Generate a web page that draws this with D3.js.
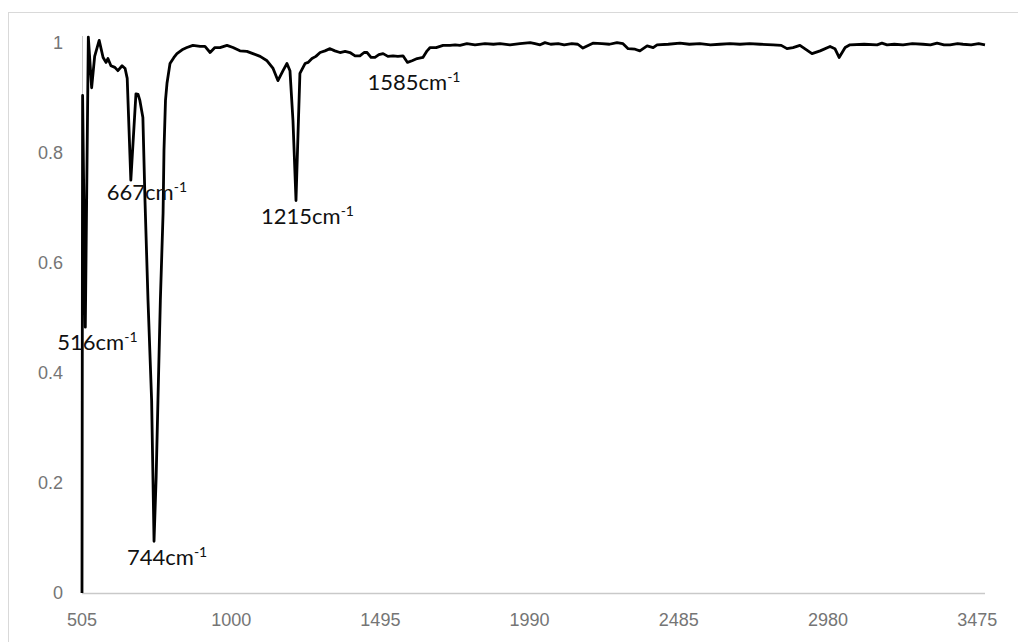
<!DOCTYPE html>
<html>
<head>
<meta charset="utf-8">
<script src="https://cdn.jsdelivr.net/npm/d3@7"></script>
<style>
  body { margin: 0; background: #fff; }
</style>
</head>
<body>
<div id="chart"></div>
<script>
// IR spectrum data (wavenumber cm-1, transmittance)
const wavenumber = [505, 507, 516, 526, 537, 547, 562, 575, 585, 591, 601, 614, 624, 638, 648, 655, 667, 684, 691, 697,
  707, 714, 724, 736, 744, 751, 757, 765, 774, 777, 782, 787, 797, 810, 820, 837, 853, 873, 897, 913,
  930, 946, 963, 986, 1006, 1029, 1052, 1072, 1096, 1119, 1139, 1155, 1172, 1185, 1195, 1205, 1215, 1222, 1228, 1245,
  1255, 1268, 1281, 1295, 1311, 1328, 1344, 1361, 1378, 1394, 1411, 1427, 1441, 1451, 1464, 1477, 1490, 1504, 1520, 1537,
  1553, 1570, 1585, 1600, 1617, 1636, 1650, 1660, 1680, 1703, 1726, 1743, 1759, 1782, 1809, 1842, 1870, 1892, 1925, 1958,
  1992, 2008, 2025, 2041, 2060, 2085, 2105, 2130, 2150, 2167, 2200, 2230, 2255, 2280, 2300, 2317, 2340, 2356, 2380, 2400,
  2413, 2450, 2489, 2520, 2555, 2590, 2622, 2655, 2688, 2720, 2755, 2798, 2825, 2844, 2864, 2887, 2927, 2954, 2987, 3003,
  3017, 3037, 3053, 3100, 3143, 3159, 3176, 3200, 3229, 3260, 3295, 3320, 3342, 3365, 3385, 3410, 3428, 3455, 3480, 3501];
const transmittance = [0.000, 0.904, 0.483, 1.010, 0.918, 0.975, 1.004, 0.973, 0.964, 0.971, 0.958, 0.955, 0.949, 0.958, 0.953, 0.935, 0.750, 0.907, 0.906, 0.895,
  0.864, 0.713, 0.532, 0.350, 0.094, 0.210, 0.350, 0.532, 0.690, 0.804, 0.895, 0.926, 0.962, 0.973, 0.980, 0.987, 0.991, 0.995, 0.993, 0.993,
  0.982, 0.991, 0.991, 0.995, 0.991, 0.985, 0.984, 0.980, 0.975, 0.967, 0.953, 0.931, 0.949, 0.962, 0.949, 0.858, 0.713, 0.840, 0.944, 0.962,
  0.964, 0.971, 0.975, 0.982, 0.985, 0.989, 0.985, 0.982, 0.984, 0.982, 0.976, 0.976, 0.982, 0.982, 0.973, 0.973, 0.978, 0.980, 0.975, 0.976,
  0.975, 0.976, 0.964, 0.967, 0.971, 0.973, 0.985, 0.991, 0.991, 0.995, 0.995, 0.996, 0.995, 0.998, 0.996, 0.998, 0.997, 0.998, 0.996, 0.998,
  1.000, 0.998, 0.996, 1.000, 0.997, 0.998, 0.996, 0.998, 0.997, 0.990, 0.999, 0.998, 0.997, 1.000, 0.998, 0.989, 0.988, 0.985, 0.994, 0.991,
  0.996, 0.997, 0.999, 0.997, 0.998, 0.996, 0.997, 0.998, 0.997, 0.998, 0.997, 0.996, 0.995, 0.989, 0.991, 0.995, 0.980, 0.985, 0.993, 0.989,
  0.973, 0.991, 0.996, 0.997, 0.996, 0.999, 0.996, 0.997, 0.996, 0.998, 0.997, 0.996, 0.999, 0.996, 0.996, 0.998, 0.997, 0.996, 0.998, 0.996];

const xTicks = [505, 1000, 1495, 1990, 2485, 2980, 3475];
const yTicks = [0, 0.2, 0.4, 0.6, 0.8, 1];

// 峰位标注
const peakWavenumbers = [516, 667, 744, 1215, 1585];
const peakValues = [0.483, 0.750, 0.094, 0.713, 0.964];

const width = 1018, height = 642;
const plot = { left: 82, right: 985, top: 36, bottom: 593 };

const svg = d3.select('#chart').append('svg')
  .attr('width', width)
  .attr('height', height);

// 外框
svg.append('rect')
  .attr('x', 8.5).attr('y', 12.5)
  .attr('width', 1100).attr('height', 700)
  .attr('fill', 'none')
  .attr('stroke', '#d9d9d9')
  .attr('stroke-width', 1);

const x = d3.scaleLinear().domain([505, 3501]).range([plot.left, plot.right]);
const y = d3.scaleLinear().domain([0, 1.012]).range([plot.bottom, plot.top]);

// 坐标轴线
svg.append('line')
  .attr('x1', plot.left).attr('x2', plot.right)
  .attr('y1', plot.bottom + 0.5).attr('y2', plot.bottom + 0.5)
  .attr('stroke', '#c9c9c9').attr('stroke-width', 1.5);
svg.append('line')
  .attr('x1', plot.left + 0.5).attr('x2', plot.left + 0.5)
  .attr('y1', plot.top).attr('y2', plot.bottom)
  .attr('stroke', '#c9c9c9').attr('stroke-width', 1);

// 刻度文字
svg.selectAll('.xt').data(xTicks).enter().append('text')
  .attr('x', d => x(d))
  .attr('y', plot.bottom + 33)
  .attr('text-anchor', 'middle')
  .style('font-family', '"Liberation Sans", Arial, sans-serif')
  .style('font-size', '18px')
  .style('fill', '#757575')
  .text(d => d);

svg.selectAll('.yt').data(yTicks).enter().append('text')
  .attr('x', 63)
  .attr('y', d => y(d))
  .attr('dy', '0.35em')
  .attr('text-anchor', 'end')
  .style('font-family', '"Liberation Sans", Arial, sans-serif')
  .style('font-size', '18px')
  .style('fill', '#757575')
  .text(d => d);

// 光谱曲线
const points = wavenumber.map((w, i) => [w, transmittance[i]]);
const line = d3.line().x(d => x(d[0])).y(d => y(d[1]));

svg.append('path')
  .datum(points)
  .attr('d', line)
  .attr('fill', 'none')
  .attr('stroke', '#000')
  .attr('stroke-width', 2.8)
  .attr('stroke-linejoin', 'round');

// 标注文字偏移（相对峰位）
const labelOffset = [[-28, 23], [-24, 20], [-27, 24], [-35, 23], [-40, 28]];

peakWavenumbers.forEach((w, i) => {
  const t = svg.append('text')
    .attr('x', x(w) + labelOffset[i][0])
    .attr('y', y(peakValues[i]) + labelOffset[i][1])
    .style('font-family', 'Lato, Carlito, Calibri, sans-serif')
    .style('font-size', '22px')
    .style('fill', '#111');
  t.append('tspan').text(w + 'cm');
  t.append('tspan')
    .attr('dy', -8)
    .style('font-size', '14px')
    .text('-1');
});
</script>
</body>
</html>
